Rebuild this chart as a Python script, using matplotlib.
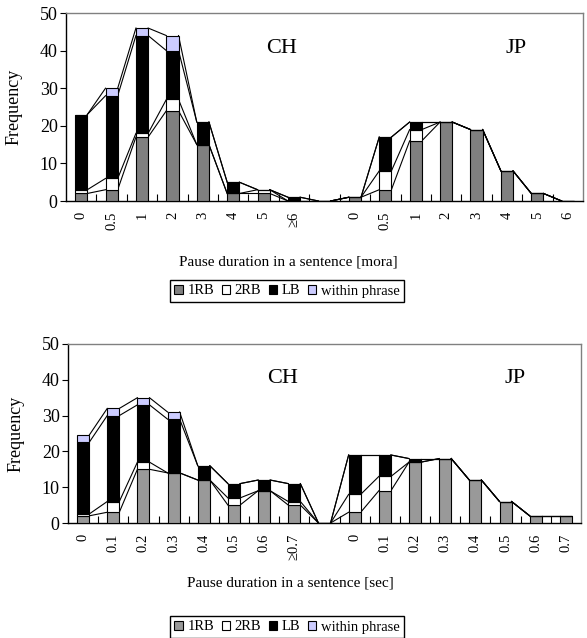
import matplotlib.pyplot as plt
import numpy as np
from matplotlib.patches import Patch

plt.rcParams['font.family'] = ['Liberation Serif', 'DejaVu Serif']

# top panel: pause duration in mora (CH 8 bins, empty gap, JP 8 bins)
mora_labels = ['0', '0.5', '1', '2', '3', '4', '5', '≥6', '',
               '0', '0.5', '1', '2', '3', '4', '5', '6']
mora_1rb = [2, 3, 17, 24, 15, 2, 2, 0, 0, 1, 3, 16, 21, 19, 8, 2, 0]
mora_2rb = [1, 3, 1, 3, 0, 0, 1, 0, 0, 0, 5, 3, 0, 0, 0, 0, 0]
mora_lb = [20, 22, 26, 13, 6, 3, 0, 1, 0, 0, 9, 2, 0, 0, 0, 0, 0]
mora_wp = [0, 2, 2, 4, 0, 0, 0, 0, 0, 0, 0, 0, 0, 0, 0, 0, 0]

# bottom panel: pause duration in seconds
sec_labels = ['0', '0.1', '0.2', '0.3', '0.4', '0.5', '0.6', '≥0.7', '',
              '0', '0.1', '0.2', '0.3', '0.4', '0.5', '0.6', '0.7']
sec_1rb = [2, 3, 15, 14, 12, 5, 9, 5, 0, 3, 9, 17, 18, 12, 6, 2, 2]
sec_2rb = [0.5, 3, 2, 0, 0, 2, 0, 1, 0, 5, 4, 0, 0, 0, 0, 0, 0]
sec_lb = [20, 24, 16, 15, 4, 4, 3, 5, 0, 11, 6, 1, 0, 0, 0, 0, 0]
sec_wp = [2, 2, 2, 2, 0, 0, 0, 0, 0, 0, 0, 0, 0, 0, 0, 0, 0]

series_names = ['1RB', '2RB', 'LB', 'within phrase']


def draw_panel(ax, labels, series, colors):
    x = np.arange(len(labels))
    w = 0.4
    bottom = np.zeros(len(x))
    for vals, c in zip(series, colors):
        vals = np.array(vals, dtype=float)
        ax.bar(x, vals, w, bottom=bottom, color=c, edgecolor='black', lw=0.8, zorder=3)
        bottom = bottom + vals
        # excel style series lines between neighbouring bars
        for i in range(len(x) - 1):
            ax.plot([x[i] + w / 2, x[i + 1] - w / 2], [bottom[i], bottom[i + 1]],
                    color='black', lw=0.8, zorder=2)
    ax.set_xlim(-0.5, len(x) - 0.5)
    ax.set_ylim(0, 50)
    ax.set_yticks(range(0, 51, 10))
    ax.tick_params(axis='y', direction='out', length=4, labelsize=13, pad=2)
    ax.set_xticks(x, labels, rotation=90, fontsize=10.5, va='top')
    ax.tick_params(axis='x', which='major', length=0, pad=8)
    ax.set_xticks(x[:-1] + 0.5, minor=True)
    ax.tick_params(axis='x', which='minor', direction='in', length=5, width=0.8)
    for s in ['top', 'right']:
        ax.spines[s].set_color('#808080')
    for s in ax.spines.values():
        s.set_linewidth(1)
    ax.set_ylabel('Frequency', fontsize=13)
    ax.yaxis.set_label_coords(-0.085, 0.5)
    ax.text(6.6, 40.5, 'CH', fontsize=16, ha='center', va='center')
    ax.text(14.3, 40.5, 'JP', fontsize=16, ha='center', va='center')


W, H = 587, 638
fig = plt.figure(figsize=(W / 100, H / 100), dpi=100)

ax1 = fig.add_axes([66 / W, 1 - 201 / H, 517 / W, 188 / H])
draw_panel(ax1, mora_labels, [mora_1rb, mora_2rb, mora_lb, mora_wp],
           ['#808080', 'white', 'black', '#ccccff'])

ax2 = fig.add_axes([68 / W, 1 - 523 / H, 513 / W, 179 / H])
draw_panel(ax2, sec_labels, [sec_1rb, sec_2rb, sec_lb, sec_wp],
           ['#999999', 'white', 'black', '#ccccff'])

fig.text(288 / W, 1 - 262 / H, 'Pause duration in a sentence [mora]',
         ha='center', va='center', fontsize=11)
fig.text(290 / W, 1 - 583 / H, 'Pause duration in a sentence [sec]',
         ha='center', va='center', fontsize=11)


def add_legend(cx, cy, colors):
    handles = [Patch(facecolor=c, edgecolor='black', lw=0.8) for c in colors]
    fig.legend(handles, series_names, loc='center', bbox_to_anchor=(cx / W, 1 - cy / H),
               ncol=4, fontsize=10.5, frameon=True, fancybox=False, edgecolor='black',
               framealpha=1, handlelength=0.6, handleheight=0.6, handletextpad=0.3,
               columnspacing=0.5, borderpad=0.3, borderaxespad=0)


add_legend(287, 291, ['#808080', 'white', 'black', '#ccccff'])
add_legend(287, 627, ['#999999', 'white', 'black', '#ccccff'])

fig.savefig('out.png', dpi=100)
